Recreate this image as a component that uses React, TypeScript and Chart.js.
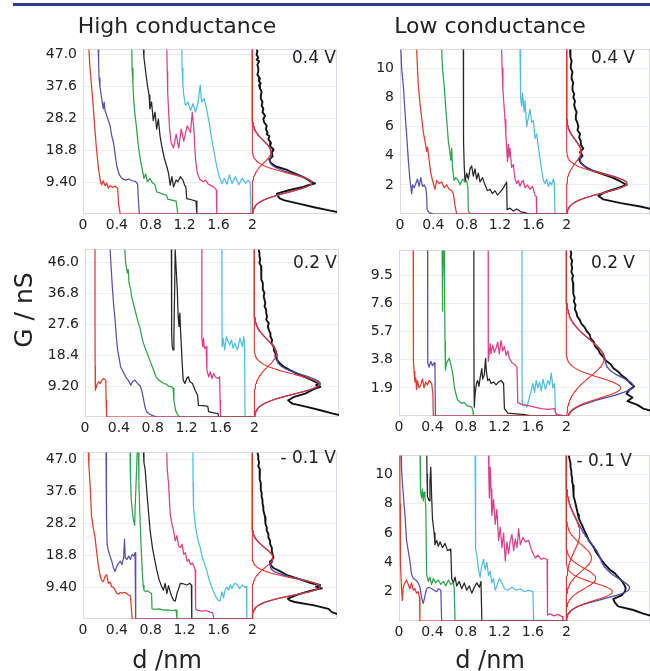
import React, { useEffect, useRef } from "react";
import { Chart, registerables } from "chart.js";

Chart.register(...registerables);

type P = number[][];

// ---------- tick values / labels ----------
const xTickValues = [0, 0.4, 0.8, 1.2, 1.6, 2];
const xTickLabels = ["0", "0.4", "0.8", "1.2", "1.6", "2"];
const hiTicksA = [9.4, 18.8, 28.2, 37.6, 47.0];
const hiLabelsA = ["9.40", "18.8", "28.2", "37.6", "47.0"];
const hiTicksB = [9.2, 18.4, 27.6, 36.8, 46.0];
const hiLabelsB = ["9.20", "18.4", "27.6", "36.8", "46.0"];
const loTicksA = [2, 4, 6, 8, 10];
const loLabelsA = ["2", "4", "6", "8", "10"];
const loTicksB = [1.9, 3.8, 5.7, 7.6, 9.5];
const loLabelsB = ["1.9", "3.8", "5.7", "7.6", "9.5"];

// ---------- High conductance, 0.4 V : traces [d nm, G nS] ----------
const tlRed: P = [[0.07,48.5],[0.08,44],[0.1,38],[0.12,32],[0.14,25],[0.16,19],[0.18,14],[0.2,10.5],[0.21,9.2],[0.22,8.6],[0.24,9.8],[0.26,8.3],[0.28,9.1],[0.3,7.6],[0.32,8.4],[0.35,7.8],[0.38,8.2],[0.41,7.5],[0.42,3],[0.44,0],[2,0]];
const tlBlue: P = [[0.18,48.5],[0.185,44],[0.19,40],[0.2,37.5],[0.21,36],[0.22,34],[0.24,31],[0.25,33],[0.26,30.5],[0.28,29],[0.3,27.5],[0.32,26],[0.34,23],[0.36,21],[0.38,17.5],[0.4,14],[0.43,11.5],[0.46,10.5],[0.5,10],[0.54,10.3],[0.58,9.8],[0.62,9.6],[0.645,8.8],[0.655,4],[0.665,0],[2,0]];
const tlGreen: P = [[0.576,48.5],[0.58,43],[0.59,38],[0.6,33],[0.615,29],[0.63,26],[0.645,22],[0.665,18],[0.685,15],[0.705,12.5],[0.72,10.5],[0.74,11.8],[0.76,9.5],[0.79,10.5],[0.82,9.2],[0.85,8.6],[0.87,6.5],[0.91,6.2],[0.95,5.8],[0.985,5.6],[1.0,4.4],[1.05,4.1],[1.1,3.8],[1.12,0],[2,0]];
const tlBlack: P = [[0.714,48.5],[0.72,46],[0.74,42],[0.76,38],[0.78,35],[0.79,31],[0.81,33],[0.83,27.5],[0.85,30],[0.87,25],[0.89,28],[0.91,23],[0.93,20],[0.96,16.5],[0.99,14],[1.01,12],[1.03,8.5],[1.05,11],[1.07,8],[1.1,10],[1.12,9.5],[1.15,11],[1.18,10],[1.2,8.5],[1.215,8],[1.225,4.5],[1.28,4.2],[1.335,3.8],[1.345,0],[2,0]];
const tlMagenta: P = [[0.99,48.5],[0.995,42],[1.0,36],[1.01,31],[1.02,26],[1.04,21],[1.07,19.5],[1.1,23.5],[1.13,19.5],[1.16,25],[1.19,21.5],[1.23,26],[1.27,24],[1.29,30],[1.31,25],[1.32,20],[1.33,16],[1.35,12],[1.38,10.2],[1.42,9.5],[1.45,10],[1.48,8.8],[1.52,8.3],[1.56,7.6],[1.575,7],[1.58,0],[2,0]];
const tlCyan: P = [[1.168,48.5],[1.17,43],[1.18,38],[1.19,35],[1.21,32],[1.24,33],[1.27,30.5],[1.3,32.5],[1.33,30],[1.36,33],[1.385,38],[1.4,33],[1.43,34],[1.46,31],[1.49,27],[1.52,22],[1.55,18],[1.58,14],[1.61,11],[1.64,9],[1.67,10.5],[1.7,8.8],[1.73,11.5],[1.76,9],[1.8,11],[1.84,8.6],[1.88,10.5],[1.92,9],[1.95,10],[1.975,9.2],[1.985,0],[2,0]];
// histogram [G nS, counts] and gaussian fit peaks [centre, height, width]
const tlHist: P = [[48.5,0.05],[48,0.06],[47,0.05],[46,0.07],[45.5,0.05],[45,0.08],[44,0.06],[43,0.07],[42,0.07],[41,0.06],[40,0.09],[39,0.08],[38.5,0.1],[38,0.08],[37,0.09],[36,0.11],[35,0.1],[34,0.1],[33,0.12],[32,0.11],[31,0.13],[30,0.12],[29,0.15],[28,0.13],[27,0.14],[26,0.17],[25,0.16],[24,0.18],[23.5,0.17],[23,0.2],[22,0.19],[21,0.22],[20,0.21],[19,0.25],[18,0.23],[17,0.24],[16,0.2],[15,0.22],[14,0.28],[13,0.41],[12.5,0.45],[12,0.5],[11,0.59],[10.5,0.63],[10,0.66],[9.5,0.69],[9,0.74],[8.5,0.66],[8,0.6],[7,0.43],[6.5,0.36],[6,0.29],[5,0.31],[4.5,0.33],[4,0.38],[3,0.56],[2,0.73],[1,0.92],[0.3,1.05]];
const tlFits: P = [[18.3,0.22,3.3],[9.2,0.7,2.8]];

// ---------- High conductance, 0.2 V ----------
const mlRed: P = [[0.118,50],[0.118,30],[0.12,15],[0.12,9],[0.125,8],[0.14,9.5],[0.16,10.5],[0.18,10],[0.2,11],[0.22,11.5],[0.245,11],[0.25,5],[0.255,0],[2,0]];
const mlBlue: P = [[0.296,50],[0.31,44],[0.325,38],[0.34,33],[0.355,29],[0.37,24],[0.385,20],[0.4,18],[0.42,15],[0.45,13.5],[0.48,12],[0.51,11],[0.54,9.5],[0.56,10.5],[0.59,11],[0.62,10],[0.65,9.3],[0.67,8],[0.69,5.5],[0.71,2.8],[0.73,1.5],[0.76,0.9],[0.8,0.4],[0.85,0],[2,0]];
const mlGreen: P = [[0.47,50],[0.48,46],[0.5,43],[0.51,44],[0.52,40],[0.54,38],[0.55,36],[0.57,34],[0.59,32],[0.61,30],[0.63,28],[0.65,26.5],[0.67,24],[0.69,22],[0.72,20],[0.75,18],[0.78,16],[0.81,14],[0.84,12],[0.87,11],[0.9,10.5],[0.93,10],[0.96,9.8],[0.99,9.2],[1.02,9],[1.04,8.6],[1.05,5],[1.07,2],[1.09,0.8],[1.12,0],[2,0]];
const mlBlack: P = [[1.02,50],[1.022,35],[1.025,25],[1.03,21],[1.04,20],[1.05,24],[1.06,40],[1.065,50],[1.075,45],[1.09,38],[1.1,30],[1.11,27],[1.12,31],[1.13,25],[1.14,20],[1.15,15],[1.16,11],[1.18,10],[1.2,11.5],[1.22,12],[1.24,10.5],[1.27,10],[1.3,8],[1.33,6.5],[1.34,3.5],[1.4,3.4],[1.45,3.2],[1.46,1.6],[1.52,1.2],[1.57,1],[1.58,0],[2,0]];
const mlMagenta: P = [[1.38,50],[1.38,30],[1.381,23.5],[1.39,21],[1.4,23.5],[1.41,20.5],[1.43,21],[1.44,14],[1.46,12],[1.48,13.5],[1.5,11.5],[1.52,13],[1.54,12],[1.57,11.5],[1.59,12],[1.595,5],[1.6,0],[2,0]];
const mlCyan: P = [[1.617,50],[1.618,30],[1.62,21],[1.63,23.5],[1.65,20],[1.67,24],[1.69,22.5],[1.71,21.5],[1.73,23],[1.75,20.5],[1.77,22],[1.8,20],[1.83,23.5],[1.86,21],[1.875,24],[1.885,22],[1.89,0],[2,0]];
const mlHist: P = [[50,0.05],[49,0.06],[48,0.06],[47,0.07],[46,0.06],[45,0.08],[44,0.08],[43,0.08],[42,0.09],[41,0.08],[40,0.1],[39,0.1],[38,0.1],[37,0.12],[36,0.11],[35,0.12],[34,0.13],[33,0.12],[32,0.14],[31,0.14],[30,0.15],[29,0.14],[28,0.17],[27,0.16],[26,0.17],[25,0.19],[24,0.19],[23,0.21],[22,0.2],[21,0.23],[20,0.23],[19,0.25],[18,0.25],[17,0.27],[16,0.3],[15,0.35],[14,0.42],[13,0.5],[12,0.59],[11,0.68],[10.5,0.72],[10,0.76],[9.5,0.73],[9,0.78],[8.5,0.72],[8,0.68],[7,0.6],[6,0.47],[5,0.4],[4.5,0.42],[4,0.45],[3,0.62],[2,0.78],[1,0.93],[0.3,1.05]];
const mlFits: P = [[19,0.26,4],[9.8,0.76,3]];

// ---------- High conductance, -0.1 V ----------
const blRed: P = [[0.063,49],[0.07,45],[0.083,40],[0.1,30.5],[0.12,27],[0.142,24],[0.16,20],[0.18,16],[0.2,13],[0.22,11.3],[0.24,11],[0.26,12.5],[0.28,13],[0.3,10.5],[0.32,10.8],[0.34,9.5],[0.36,9.3],[0.38,8.5],[0.4,7.5],[0.42,7.3],[0.44,7.8],[0.46,7.6],[0.5,7.8],[0.53,7.2],[0.56,6.8],[0.575,2],[0.58,0],[2,0]];
const blBlue: P = [[0.272,49],[0.275,40],[0.28,30],[0.285,22],[0.3,20],[0.32,18.5],[0.34,17],[0.36,15],[0.38,14],[0.4,15.5],[0.42,16.5],[0.44,17],[0.46,16],[0.48,18],[0.49,23.5],[0.5,18],[0.52,17.5],[0.54,18.5],[0.56,17.5],[0.58,19],[0.6,18.5],[0.615,19.5],[0.62,5],[0.625,0],[2,0]];
const blGreen: P = [[0.556,49],[0.56,42],[0.57,35],[0.59,30],[0.61,27.5],[0.615,32],[0.63,42],[0.64,49],[0.655,49],[0.66,40],[0.67,32],[0.685,22],[0.7,14],[0.71,10],[0.72,8.5],[0.74,8],[0.76,8.3],[0.79,7.8],[0.81,7.5],[0.815,3],[0.85,2.8],[0.9,3],[0.95,2.6],[1.0,2.7],[1.05,2.5],[1.1,2.6],[1.11,0],[2,0]];
const blBlack: P = [[0.714,49],[0.72,46],[0.734,44],[0.76,35.5],[0.793,26],[0.82,21],[0.85,17],[0.872,14.3],[0.9,11.5],[0.93,9.5],[0.95,8.5],[0.97,10.5],[0.99,7.5],[1.01,9.8],[1.03,8],[1.05,6.5],[1.07,5.5],[1.09,5.3],[1.11,7.5],[1.13,9],[1.15,10.5],[1.19,10.3],[1.23,10],[1.26,10.5],[1.28,10],[1.285,0],[2,0]];
const blMagenta: P = [[0.99,49],[0.995,44],[1.01,40],[1.03,31],[1.05,28],[1.07,26],[1.09,23],[1.11,24.5],[1.13,21.5],[1.15,21],[1.17,22],[1.19,19],[1.21,19.5],[1.23,17],[1.25,17.5],[1.27,16],[1.29,16.5],[1.31,15.5],[1.325,14.5],[1.33,3],[1.35,2.6],[1.4,2.3],[1.45,2.5],[1.5,2],[1.53,1.9],[1.545,0],[2,0]];
const blCyan: P = [[1.298,49],[1.3,40],[1.305,33],[1.325,28],[1.34,25.5],[1.36,23],[1.385,21],[1.41,18],[1.44,16],[1.464,14],[1.49,11.5],[1.52,9.5],[1.542,8],[1.57,6.5],[1.6,5.5],[1.62,5.3],[1.64,8],[1.66,6.2],[1.68,8.8],[1.7,9.4],[1.72,8.5],[1.74,10],[1.76,9],[1.79,10.5],[1.82,10.2],[1.85,9],[1.88,10],[1.91,9.3],[1.93,9.6],[1.935,0],[2,0]];
const blHist: P = [[49,0.06],[48,0.07],[47,0.07],[46,0.08],[45,0.07],[44,0.09],[43,0.08],[42,0.09],[41,0.09],[40,0.1],[39,0.1],[38,0.1],[37,0.11],[36,0.11],[35,0.12],[34,0.12],[33,0.13],[32,0.13],[31,0.14],[30,0.15],[29,0.15],[28,0.16],[27,0.17],[26,0.17],[25,0.19],[24,0.19],[23,0.21],[22,0.21],[21,0.23],[20,0.23],[19,0.24],[18,0.25],[17,0.22],[16,0.21],[15,0.25],[14,0.33],[13,0.4],[12,0.52],[11,0.64],[10.5,0.7],[10,0.8],[9.5,0.75],[9,0.82],[8.5,0.72],[8,0.64],[7,0.52],[6,0.42],[5.5,0.44],[5,0.5],[4,0.73],[3,0.9],[2,0.94],[1,1.05]];
const blFits: P = [[18,0.24,3],[9.5,0.8,2.5]];

// ---------- Low conductance, 0.4 V ----------
const trRed: P = [[0.2,11.3],[0.21,10],[0.22,8.8],[0.24,7.6],[0.26,6.6],[0.28,5.6],[0.3,5],[0.32,4.3],[0.33,4.6],[0.35,3.7],[0.37,2.8],[0.39,2.3],[0.42,1.7],[0.44,2.3],[0.47,2.1],[0.5,2.2],[0.53,1.8],[0.56,2],[0.59,1.7],[0.62,1.6],[0.64,1.4],[0.66,0.6],[0.68,0],[2,0]];
const trBlue: P = [[0.01,11.3],[0.02,10],[0.04,8.8],[0.06,7],[0.08,5.4],[0.1,3.7],[0.12,2.3],[0.14,1.4],[0.15,2],[0.17,1.8],[0.19,2.1],[0.21,2.4],[0.23,1.9],[0.25,2.5],[0.27,1.9],[0.29,2],[0.31,1.8],[0.32,1.2],[0.325,0.3],[0.35,0.1],[0.4,0],[2,0]];
const trGreen: P = [[0.5,11.3],[0.51,10],[0.53,8.8],[0.55,7.2],[0.56,6.5],[0.58,5],[0.6,4.2],[0.61,3.7],[0.62,4.5],[0.63,3.2],[0.65,2.3],[0.67,2.5],[0.7,2.3],[0.72,2],[0.75,2.4],[0.78,2.2],[0.8,2.3],[0.815,1.8],[0.82,0.2],[0.85,0],[2,0]];
const trBlack: P = [[0.76,11.3],[0.76,8],[0.765,5],[0.77,3.4],[0.78,2.2],[0.8,2.8],[0.82,2.4],[0.84,3.1],[0.86,3.3],[0.88,2.6],[0.9,3.1],[0.92,2.4],[0.94,2.8],[0.96,2.2],[0.99,2.5],[1.02,2],[1.05,1.6],[1.08,1.7],[1.11,1.4],[1.14,1.6],[1.17,1.3],[1.2,1.5],[1.23,1.7],[1.26,2],[1.28,2.2],[1.285,0.3],[1.32,0.4],[1.36,0.2],[1.4,0.35],[1.45,0.15],[1.5,0.1],[1.55,0],[2,0]];
const trMagenta: P = [[1.22,11.3],[1.225,10],[1.235,8.5],[1.245,7.7],[1.26,6.5],[1.27,5.5],[1.28,4.5],[1.29,3.6],[1.3,4.8],[1.31,3.9],[1.32,4.5],[1.34,3.2],[1.36,3.4],[1.38,2.4],[1.4,2.1],[1.42,2.3],[1.44,1.9],[1.46,2.2],[1.48,2.3],[1.5,1.8],[1.53,2],[1.56,1.7],[1.59,1.9],[1.62,1.3],[1.635,1.2],[1.64,0],[2,0]];
const trCyan: P = [[1.44,11.3],[1.445,9.5],[1.45,8],[1.46,7.4],[1.47,8.3],[1.49,7],[1.5,7.8],[1.52,6],[1.54,6.6],[1.56,7.2],[1.58,6.3],[1.6,6.4],[1.62,5.2],[1.64,5.5],[1.66,4.6],[1.68,3.8],[1.7,3],[1.72,2.3],[1.74,2.1],[1.76,2.4],[1.78,1.9],[1.8,2.2],[1.82,2],[1.84,2.4],[1.85,2.2],[1.86,0],[2,0]];
const trHist: P = [[11.3,0.04],[11,0.05],[10.75,0.04],[10.5,0.06],[10.25,0.05],[10,0.05],[9.75,0.07],[9.5,0.06],[9.25,0.06],[9,0.08],[8.75,0.07],[8.5,0.07],[8.25,0.09],[8,0.08],[7.75,0.1],[7.5,0.09],[7.25,0.1],[7,0.12],[6.75,0.11],[6.5,0.11],[6.25,0.13],[6,0.14],[5.75,0.13],[5.5,0.16],[5.25,0.15],[5,0.17],[4.75,0.17],[4.5,0.2],[4.25,0.16],[4,0.19],[3.75,0.15],[3.5,0.17],[3.25,0.22],[3,0.3],[2.75,0.42],[2.5,0.55],[2.25,0.64],[2,0.72],[1.75,0.6],[1.5,0.46],[1.25,0.38],[1,0.44],[0.75,0.65],[0.5,0.9],[0.3,1.05]];
const trFits: P = [[4.3,0.17,0.8],[2.1,0.72,0.65]];

// ---------- Low conductance, 0.2 V ----------
const mrRed: P = [[0.17,11.2],[0.17,8],[0.172,5.5],[0.175,3.7],[0.18,3],[0.19,2.3],[0.2,2.6],[0.21,1.8],[0.22,2.4],[0.24,1.9],[0.26,2.1],[0.28,2.5],[0.3,1.9],[0.32,2.3],[0.34,2.1],[0.36,2.4],[0.39,2.2],[0.405,1.5],[0.41,0],[2,0]];
const mrBlue: P = [[0.342,11.2],[0.342,6],[0.345,3.6],[0.36,3.3],[0.38,3.7],[0.4,3.4],[0.42,3.6],[0.43,3.3],[0.435,0],[2,0]];
const mrGreen: P = [[0.515,11.2],[0.517,9],[0.52,7.1],[0.525,9],[0.53,11.2],[0.54,11.2],[0.545,8],[0.55,5],[0.555,3.1],[0.565,3.5],[0.58,3.7],[0.6,3.9],[0.615,3.6],[0.63,3.2],[0.645,2.8],[0.66,2],[0.68,1.5],[0.7,1.1],[0.72,1.0],[0.75,0.85],[0.78,0.9],[0.81,0.7],[0.84,0.65],[0.87,0.6],[0.885,0.3],[0.89,0],[2,0]];
const mrBlack: P = [[0.895,11.2],[0.895,6],[0.897,2],[0.9,0.6],[0.91,1.5],[0.925,2.2],[0.94,2.4],[0.955,2],[0.97,2.6],[0.99,3.2],[1.0,2.5],[1.02,2.8],[1.035,3.9],[1.045,3.0],[1.06,2.4],[1.08,2.5],[1.1,2.2],[1.13,2.3],[1.16,2.1],[1.19,2.3],[1.22,2.4],[1.25,2.2],[1.26,0.5],[1.3,0.2],[1.4,0.15],[1.5,0.1],[1.6,0],[2,0]];
const mrMagenta: P = [[1.066,11.2],[1.066,7],[1.068,3.7],[1.08,4.4],[1.09,4.9],[1.1,4.2],[1.12,4.8],[1.14,4.3],[1.16,4.6],[1.18,5],[1.2,4.2],[1.22,5.1],[1.24,4.4],[1.26,4.7],[1.28,4.1],[1.3,4.4],[1.32,3.9],[1.35,3.6],[1.38,3.5],[1.41,3.3],[1.42,0.9],[1.48,0.75],[1.55,0.7],[1.62,0.6],[1.7,0.5],[1.78,0.45],[1.86,0.5],[1.88,0.1],[2,0]];
const mrCyan: P = [[1.47,11.2],[1.47,5],[1.472,1],[1.48,0.7],[1.5,0.8],[1.53,0.6],[1.56,1.3],[1.58,1.7],[1.6,2.2],[1.62,1.6],[1.64,2.4],[1.66,1.9],[1.68,2.3],[1.7,1.7],[1.72,2.5],[1.75,1.8],[1.78,2.4],[1.8,2.1],[1.82,2.9],[1.84,1.9],[1.86,2.2],[1.87,0.2],[1.9,0.1],[2,0]];
const mrHist: P = [[11.2,0.05],[11,0.06],[10.75,0.05],[10.5,0.07],[10.25,0.06],[10,0.07],[9.75,0.06],[9.5,0.08],[9.25,0.07],[9,0.08],[8.75,0.08],[8.5,0.09],[8.25,0.08],[8,0.1],[7.75,0.09],[7.5,0.11],[7.25,0.1],[7,0.12],[6.75,0.13],[6.5,0.16],[6.25,0.18],[6,0.22],[5.75,0.24],[5.5,0.28],[5.25,0.29],[5,0.33],[4.75,0.34],[4.5,0.38],[4.25,0.4],[4,0.44],[3.75,0.47],[3.5,0.53],[3.25,0.56],[3,0.62],[2.75,0.66],[2.5,0.72],[2.25,0.76],[2,0.81],[1.75,0.75],[1.5,0.72],[1.25,0.79],[1,0.73],[0.75,0.85],[0.5,0.92],[0.3,1.05]];
const mrFits: P = [[3.9,0.45,1.3],[1.9,0.65,0.7]];

// ---------- Low conductance, -0.1 V ----------
const brRed: P = [[0.01,11.3],[0.012,8],[0.015,5],[0.02,3.9],[0.03,2.2],[0.04,1.4],[0.05,2.3],[0.07,2.6],[0.09,2.8],[0.11,2.5],[0.13,2.2],[0.15,2.6],[0.17,2.1],[0.19,2.2],[0.21,1.9],[0.23,2],[0.245,1.6],[0.25,0],[2,0]];
const brBlue: P = [[0.024,11.3],[0.03,10.5],[0.04,9.5],[0.06,8],[0.072,7.2],[0.09,5.5],[0.11,4.8],[0.13,4.1],[0.15,3.2],[0.17,2.9],[0.2,2.8],[0.23,2.6],[0.25,2.3],[0.27,1.6],[0.29,1.2],[0.31,1.7],[0.33,2.2],[0.36,2.3],[0.39,2.2],[0.42,2.1],[0.45,2],[0.47,2.2],[0.5,2.1],[0.51,0],[2,0]];
const brGreen: P = [[0.252,11.3],[0.255,10],[0.26,8.8],[0.27,8.4],[0.28,9],[0.29,8.2],[0.3,8.8],[0.31,8.5],[0.32,7.8],[0.33,3.2],[0.35,2.7],[0.37,3],[0.39,2.5],[0.41,2.9],[0.44,2.6],[0.47,2.8],[0.5,2.5],[0.53,2.7],[0.56,2.4],[0.59,2.8],[0.62,2.5],[0.65,2.6],[0.66,2.2],[0.67,0],[2,0]];
const brBlack: P = [[0.332,11.3],[0.335,10],[0.34,8.5],[0.36,8.2],[0.37,9.5],[0.38,10.5],[0.39,8.5],[0.4,7],[0.42,6],[0.43,5.2],[0.45,5.5],[0.47,5.1],[0.49,5.4],[0.52,5],[0.55,5.3],[0.58,4.8],[0.61,4.9],[0.62,4.7],[0.63,2.9],[0.65,2.6],[0.67,3],[0.69,2.4],[0.72,2.7],[0.75,2.2],[0.78,2.6],[0.81,2.1],[0.84,2.4],[0.87,1.9],[0.9,2.3],[0.93,2.6],[0.96,2.3],[0.98,2.7],[0.99,0],[2,0]];
const brMagenta: P = [[1.07,11.3],[1.075,9.5],[1.08,8.4],[1.09,10.5],[1.1,9],[1.11,7.2],[1.13,8.3],[1.15,6.6],[1.17,7.6],[1.19,5.5],[1.21,6.4],[1.23,5],[1.25,6],[1.27,4.1],[1.29,5.4],[1.31,4.6],[1.33,5.5],[1.35,5.9],[1.37,4.8],[1.39,5.6],[1.41,5],[1.43,6.3],[1.45,5.2],[1.48,5.7],[1.51,5.4],[1.55,5.5],[1.58,4.9],[1.61,4.5],[1.63,4.3],[1.66,4.5],[1.7,4.2],[1.73,4.3],[1.77,4.2],[1.775,0.4],[1.8,0.5],[1.85,0.35],[1.9,0.45],[1.95,0.3],[1.96,0],[2,0]];
const brCyan: P = [[0.91,11.3],[0.912,9],[0.915,6],[0.92,4.9],[0.93,4.5],[0.95,3.5],[0.97,3],[0.99,3.8],[1.01,4.2],[1.03,3.5],[1.05,4],[1.07,3.1],[1.09,3.4],[1.11,2.6],[1.13,2.9],[1.15,2.1],[1.17,2.4],[1.2,2.9],[1.23,2.6],[1.26,2.2],[1.3,2.1],[1.35,2.3],[1.4,2.1],[1.45,2.2],[1.5,2],[1.55,2.1],[1.6,2],[1.61,0],[2,0]];
const brHist: P = [[11.3,0.03],[11,0.04],[10.75,0.05],[10.5,0.05],[10.25,0.06],[10,0.06],[9.75,0.07],[9.5,0.07],[9.25,0.08],[9,0.08],[8.75,0.09],[8.5,0.09],[8.25,0.1],[8,0.11],[7.75,0.12],[7.5,0.13],[7.25,0.14],[7,0.15],[6.75,0.17],[6.5,0.19],[6.25,0.21],[6,0.23],[5.75,0.25],[5.5,0.27],[5.25,0.3],[5,0.33],[4.75,0.35],[4.5,0.38],[4.25,0.41],[4,0.44],[3.75,0.48],[3.5,0.52],[3.25,0.58],[3,0.62],[2.75,0.66],[2.5,0.69],[2.25,0.71],[2,0.7],[1.75,0.66],[1.5,0.56],[1.25,0.58],[1,0.62],[0.75,0.8],[0.5,0.92],[0.3,1.05]];
const brFits: P = [[6,0.16,1.2],[4.3,0.3,0.9],[2.9,0.35,0.7],[2.0,0.55,0.6]];

// ---------- styles ----------
const FONT = "'DejaVu Sans', Verdana, sans-serif";
const TRACE_COLORS = ["#e5392c", "#5a4fae", "#2fa34b", "#262626", "#e03d88", "#4fbde2"];
const FIT_RED = "#e3342c";
const SUM_BLUE = "#4a48a8";
const HIST_BLACK = "#111111";
const X_MAX = 3;

interface PanelSpec {
  left: number; right: number; top: number; bottom: number; padR: number;
  ymax: number; yTicks: number[]; yLabels: string[];
  traces: P[]; hist: P; fits: P;
}

const panels: PanelSpec[] = [
  { left: 83, right: 337, top: 47, bottom: 214, padR: 2, ymax: 48.5, yTicks: hiTicksA, yLabels: hiLabelsA, traces: [tlRed, tlBlue, tlGreen, tlBlack, tlMagenta, tlCyan], hist: tlHist, fits: tlFits },
  { left: 85, right: 339, top: 247, bottom: 417, padR: 2, ymax: 50, yTicks: hiTicksB, yLabels: hiLabelsB, traces: [mlRed, mlBlue, mlGreen, mlBlack, mlMagenta, mlCyan], hist: mlHist, fits: mlFits },
  { left: 83, right: 337, top: 450, bottom: 619, padR: 2, ymax: 49, yTicks: hiTicksA, yLabels: hiLabelsA, traces: [blRed, blBlue, blGreen, blBlack, blMagenta, blCyan], hist: blHist, fits: blFits },
  { left: 400, right: 650, top: 47, bottom: 214, padR: 0, ymax: 11.3, yTicks: loTicksA, yLabels: loLabelsA, traces: [trRed, trBlue, trGreen, trBlack, trMagenta, trCyan], hist: trHist, fits: trFits },
  { left: 399, right: 650, top: 248, bottom: 416, padR: 0, ymax: 11.2, yTicks: loTicksB, yLabels: loLabelsB, traces: [mrRed, mrBlue, mrGreen, mrBlack, mrMagenta, mrCyan], hist: mrHist, fits: mrFits },
  { left: 399, right: 650, top: 453, bottom: 621, padR: 0, ymax: 11.3, yTicks: loTicksA, yLabels: loLabelsA, traces: [brRed, brBlue, brGreen, brBlack, brMagenta, brCyan], hist: brHist, fits: brFits },
];

const voltLabels = [
  { text: "0.4 V", right: 336, cy: 57 },
  { text: "0.2 V", right: 337, cy: 262 },
  { text: "- 0.1 V", right: 336, cy: 457 },
  { text: "0.4 V", right: 635, cy: 57 },
  { text: "0.2 V", right: 635, cy: 262 },
  { text: "- 0.1 V", right: 632, cy: 460 },
];

const toXY = (pts: P) => pts.map(([x, y]) => ({ x, y }));
const histXY = (h: P) => h.map(([g, c]) => ({ x: 2 + c, y: g }));
function fitCurve(fits: P, ymax: number) {
  const pts: { x: number; y: number }[] = [];
  const n = 160;
  for (let i = 0; i <= n; i++) {
    const y = (ymax * i) / n;
    let c = 0;
    for (const [m, a, s] of fits) c += a * Math.exp(-((y - m) * (y - m)) / (2 * s * s));
    pts.push({ x: 2 + c, y });
  }
  return pts;
}

const boxPlugin = {
  id: "panelBox",
  beforeDatasetsDraw(chart: any) {
    const { ctx, chartArea: a } = chart;
    ctx.save();
    ctx.strokeStyle = "#d9d9e3";
    ctx.lineWidth = 1;
    ctx.strokeRect(Math.round(a.left) + 0.5, Math.round(a.top) + 0.5, Math.round(a.right - a.left) - 1, Math.round(a.bottom - a.top) - 1);
    ctx.restore();
  },
};

const YW = 45, XH = 28, PT = 12;

function Panel({ spec }: { spec: PanelSpec }) {
  const ref = useRef<HTMLCanvasElement>(null);
  const w = YW + (spec.right - spec.left) + spec.padR;
  const h = PT + (spec.bottom - spec.top) + XH;
  useEffect(() => {
    const datasets: any[] = [];
    spec.fits.forEach((f) => datasets.push({ data: fitCurve([f], spec.ymax), borderColor: FIT_RED, borderWidth: 1.1 }));
    datasets.push({ data: fitCurve(spec.fits, spec.ymax), borderColor: SUM_BLUE, borderWidth: 1.3 });
    datasets.push({ data: histXY(spec.hist), borderColor: HIST_BLACK, borderWidth: 1.9 });
    spec.traces.forEach((t, i) => datasets.push({ data: toXY(t), borderColor: TRACE_COLORS[i], borderWidth: 1.25 }));
    const chart = new Chart(ref.current as HTMLCanvasElement, {
      type: "line",
      data: { datasets },
      plugins: [boxPlugin],
      options: {
        animation: false,
        responsive: false,
        maintainAspectRatio: false,
        events: [],
        layout: { padding: { top: PT, right: spec.padR, left: 0, bottom: 0 } },
        elements: { point: { radius: 0 }, line: { tension: 0, borderJoinStyle: "round", fill: false } },
        plugins: { legend: { display: false }, tooltip: { enabled: false } },
        scales: {
          x: {
            type: "linear", min: 0, max: X_MAX,
            grid: { display: false, drawTicks: false }, border: { display: false },
            afterBuildTicks: (s: any) => { s.ticks = xTickValues.map((v) => ({ value: v })); },
            afterFit: (s: any) => { s.height = XH; },
            ticks: { autoSkip: false, maxRotation: 0, padding: 3, color: "#222", font: { size: 14, family: FONT }, callback: (_v: any, i: number) => xTickLabels[i] },
          },
          y: {
            type: "linear", min: 0, max: spec.ymax,
            grid: { color: "#ededf2", drawTicks: false, lineWidth: 1 }, border: { display: false },
            afterBuildTicks: (s: any) => { s.ticks = spec.yTicks.map((v) => ({ value: v })); },
            afterFit: (s: any) => { s.width = YW; },
            ticks: { autoSkip: false, padding: 6, color: "#222", font: { size: 14, family: FONT }, callback: (_v: any, i: number) => spec.yLabels[i] },
          },
        },
      } as any,
    });
    return () => chart.destroy();
  }, []);
  return (
    <canvas ref={ref} width={w} height={h}
      style={{ position: "absolute", left: spec.left - YW, top: spec.top - PT, width: w, height: h }} />
  );
}

export default function App() {
  const text: React.CSSProperties = { position: "absolute", fontFamily: FONT, color: "#222", whiteSpace: "nowrap", lineHeight: 1 };
  return (
    <div style={{ position: "absolute", left: 0, top: 0, width: 650, height: 671, overflow: "hidden", background: "#fff" }}>
      <div style={{ position: "absolute", left: 13, top: 3, width: 637, height: 3, background: "#2b3a8f" }} />
      {panels.map((p, i) => <Panel key={i} spec={p} />)}
      <div style={{ ...text, left: 177, top: 26, fontSize: 22, transform: "translate(-50%, -50%)" }}>High conductance</div>
      <div style={{ ...text, left: 490, top: 26, fontSize: 22, transform: "translate(-50%, -50%)" }}>Low conductance</div>
      <div style={{ ...text, left: 23, top: 310, fontSize: 25, transform: "translate(-50%, -50%) rotate(-90deg)" }}>G / nS</div>
      <div style={{ ...text, left: 167, top: 660, fontSize: 24, transform: "translate(-50%, -50%)" }}>d /nm</div>
      <div style={{ ...text, left: 490, top: 660, fontSize: 24, transform: "translate(-50%, -50%)" }}>d /nm</div>
      {voltLabels.map((v, i) => (
        <div key={"v" + i} style={{ ...text, left: v.right - 120, width: 120, textAlign: "right", top: v.cy - 9, fontSize: 17, lineHeight: "18px" }}>{v.text}</div>
      ))}
    </div>
  );
}
